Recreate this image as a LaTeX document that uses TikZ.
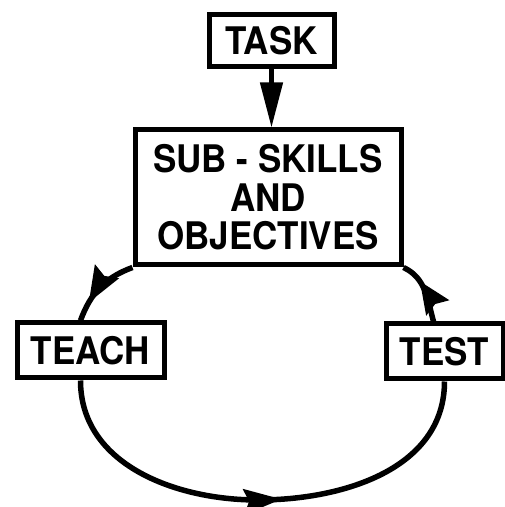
\documentclass[tikz,border=0pt]{standalone}
\usepackage{fontspec}
\setmainfont{TeX Gyre Heros}[FakeStretch=0.92]
\usetikzlibrary{arrows.meta,decorations.markings}

\begin{document}
\begin{tikzpicture}[x=1pt, y=1pt]
        \tikzstyle{every node}=[draw, line width=5pt, inner sep=0pt, font=\bfseries\fontsize{38}{38.5}\selectfont]
        \tikzstyle{cycle}=[line width=5.5pt, postaction={decorate}]
        \tikzset{head at/.style n args={3}{decoration={markings, mark=at position #1 with {\fill (0pt,0pt) -- (-#2 pt,#3 pt/2) -- (-0.85*#2 pt,0pt) -- (-#2 pt,-#3 pt/2) -- cycle;}}}}

        \useasboundingbox (0,0) rectangle (505,507);

        \node   (task)    [minimum width=125pt, minimum height=52pt] at (271.5,466) {TASK};
        \node   (skills)  [minimum width=266pt, minimum height=135pt, align=center] at (268,309.5) {SUB - SKILLS\\AND\\OBJECTIVES};
        \node   (teach)   [minimum width=147pt, minimum height=55pt] at (90.5,156.5) {TEACH};
        \node   (test)    [minimum width=117pt, minimum height=55pt] at (444.5,155.5) {TEST};
        \coordinate (low) at (258,7);

        \draw[line width=4.5pt, -{Triangle[length=45pt, width=22pt]}] (task.south) -- (task.south |- skills.north);

        % round the loop
        \draw[cycle, head at={0.74}{36}{28}]
            (skills.south west) to[out=200, in=70] ([xshift=-10pt]teach.north);
        \draw[cycle, head at={0.54}{38}{26}]
            ([xshift=-10pt]teach.south) to[out=-90, in=180] (low) to[out=0, in=-90] (test.south);
        \draw[cycle, head at={0.66}{32}{28}]
            ([xshift=-11pt]test.north) to[out=105, in=-25] (skills.south east);

    \end{tikzpicture}
\end{document}
